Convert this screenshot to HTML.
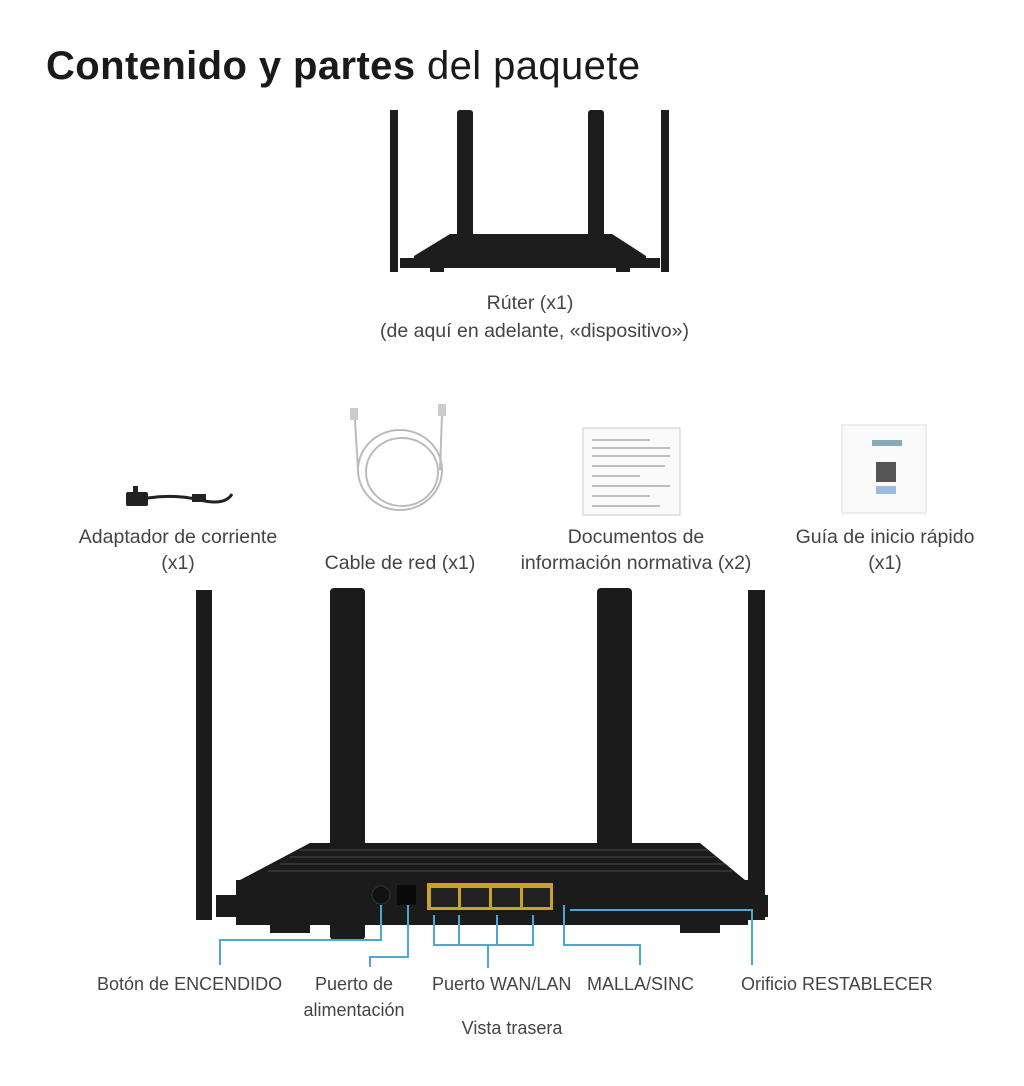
<!DOCTYPE html><html><head><meta charset="utf-8"><style>
body{margin:0;background:#fff;width:1024px;height:1086px;overflow:hidden;font-family:"Liberation Sans",sans-serif}
.t{position:absolute;color:#444;font-size:18px;text-align:center;line-height:26px;white-space:nowrap}
.u{font-size:19.5px;line-height:26px}
</style></head><body>
<div style="position:absolute;left:46px;top:44px;font-size:40px;color:#1a1a1a;letter-spacing:0.4px"><b>Contenido y partes</b> del paquete</div>
<svg width="1024" height="1086" style="position:absolute;left:0;top:0">
<g fill="#1d1d1d">
<rect x="390" y="110" width="8" height="162"/><rect x="661" y="110" width="8" height="162"/>
<rect x="457" y="110" width="16" height="130" rx="3"/><rect x="588" y="110" width="16" height="130" rx="3"/>
<polygon points="450,234 612,234 646,256 646,268 414,268 414,256"/>
<rect x="400" y="258" width="18" height="10"/><rect x="642" y="258" width="18" height="10"/>
<rect x="430" y="268" width="14" height="4"/><rect x="616" y="268" width="14" height="4"/>
</g>
<g fill="#222"><rect x="126" y="492" width="22" height="14" rx="2"/><rect x="133" y="486" width="5" height="6"/><path d="M148 498 Q175 494 200 500 T232 494" stroke="#222" stroke-width="3" fill="none"/><rect x="192" y="494" width="14" height="8"/></g>
<g fill="none" stroke="#bbb" stroke-width="2"><ellipse cx="400" cy="470" rx="42" ry="40"/><ellipse cx="402" cy="472" rx="36" ry="34"/><line x1="355" y1="420" x2="358" y2="470"/><line x1="442" y1="415" x2="440" y2="470"/></g>
<rect x="350" y="408" width="8" height="12" fill="#ccc"/><rect x="438" y="404" width="8" height="12" fill="#ccc"/>
<rect x="583" y="428" width="97" height="87" fill="#fafafa" stroke="#ccc"/>
<g stroke="#aaa" stroke-width="1.5"><line x1="592" y1="440" x2="650" y2="440"/><line x1="592" y1="448" x2="670" y2="448"/><line x1="592" y1="456" x2="670" y2="456"/><line x1="592" y1="466" x2="665" y2="466"/><line x1="592" y1="476" x2="640" y2="476"/><line x1="592" y1="486" x2="670" y2="486"/><line x1="592" y1="496" x2="650" y2="496"/><line x1="592" y1="506" x2="660" y2="506"/></g>
<rect x="842" y="425" width="84" height="88" fill="#fafafa" stroke="#ddd"/>
<rect x="872" y="440" width="30" height="6" fill="#8ab"/><rect x="876" y="462" width="20" height="20" fill="#555"/><rect x="876" y="486" width="20" height="8" fill="#9bd"/>
<g fill="#1b1b1b">
<polygon points="310,843 700,843 745,880 240,880"/>
<rect x="236" y="880" width="512" height="45"/>
<rect x="196" y="590" width="16" height="330"/><rect x="748" y="590" width="17" height="330"/>
<rect x="216" y="895" width="22" height="22"/><rect x="746" y="895" width="22" height="22"/>
<rect x="270" y="925" width="40" height="8"/><rect x="680" y="925" width="40" height="8"/>
<rect x="330" y="588" width="35" height="352" rx="4"/><rect x="597" y="588" width="35" height="322" rx="4"/>
</g>
<g stroke="#3a3a3a" stroke-width="1.5"><line x1="300" y1="850" x2="708" y2="850"/><line x1="290" y1="857" x2="716" y2="857"/><line x1="280" y1="864" x2="724" y2="864"/><line x1="268" y1="871" x2="732" y2="871"/></g>
<circle cx="381" cy="895" r="9" fill="#111" stroke="#333"/>
<rect x="397" y="885" width="19" height="20" fill="#0a0a0a"/>
<rect x="427" y="883" width="126" height="27" fill="#c9a227"/>
<g fill="#222"><rect x="431" y="888" width="27" height="19"/><rect x="461" y="888" width="28" height="19"/><rect x="492" y="888" width="28" height="19"/><rect x="523" y="888" width="27" height="19"/></g>
<g fill="none" stroke="#4ba8d4" stroke-width="2">
<polyline points="381,905 381,940 220,940 220,965"/>
<polyline points="408,905 408,957 370,957 370,967"/>
<polyline points="434,915 434,945 533,945 533,915"/><line x1="459" y1="915" x2="459" y2="945"/><line x1="497" y1="915" x2="497" y2="945"/><line x1="488" y1="945" x2="488" y2="968"/>
<polyline points="564,905 564,945 640,945 640,965"/>
<polyline points="570,910 752,910 752,965"/>
</g>
</svg>
<div class="t u" style="left:380px;top:289px;width:300px;line-height:28px">Rúter (x1)<br>(de aquí en adelante, «dispositivo»)</div>
<div class="t u" style="left:60px;top:524px;width:236px">Adaptador de corriente<br>(x1)</div>
<div class="t u" style="left:300px;top:550px;width:200px">Cable de red (x1)</div>
<div class="t u" style="left:496px;top:524px;width:280px">Documentos de<br>información normativa (x2)</div>
<div class="t u" style="left:775px;top:524px;width:220px">Guía de inicio rápido<br>(x1)</div>
<div class="t" style="left:97px;top:971px">Botón de ENCENDIDO</div>
<div class="t" style="left:294px;top:971px;width:120px">Puerto de<br>alimentación</div>
<div class="t" style="left:432px;top:971px">Puerto WAN/LAN</div>
<div class="t" style="left:587px;top:971px">MALLA/SINC</div>
<div class="t" style="left:741px;top:971px">Orificio RESTABLECER</div>
<div class="t" style="left:440px;top:1015px;width:144px">Vista trasera</div>
</body></html>
